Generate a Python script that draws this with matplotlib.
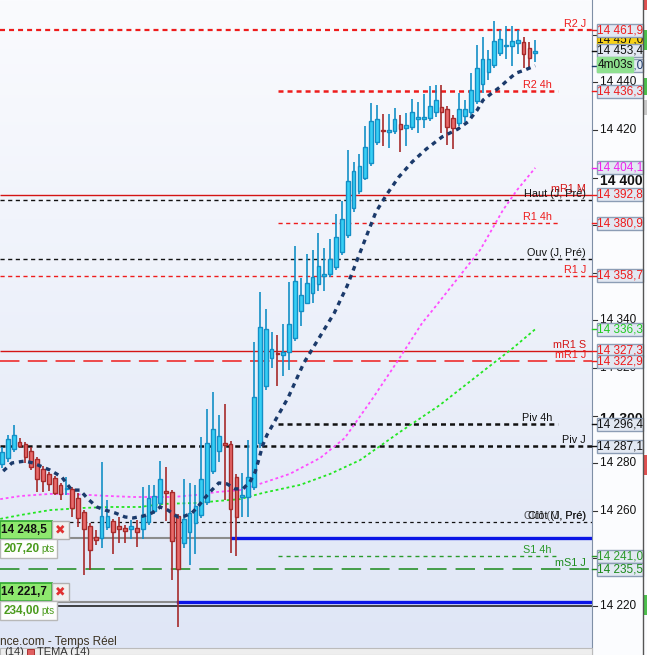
import numpy as np
import matplotlib
matplotlib.use('Agg')
import matplotlib.pyplot as plt
from matplotlib.patches import Rectangle
from matplotlib.lines import Line2D
from matplotlib.colors import LinearSegmentedColormap

plt.rcParams['font.family'] = ['Liberation Sans', 'DejaVu Sans']
plt.rcParams['lines.scale_dashes'] = False

# OHLC of the intraday candles, left to right
opens = [14279.7, 14282.2, 14286.0, 14288.9, 14288.1, 14285.1, 14281.7, 14277.6, 14275.5, 14273.8,
         14270.9, 14269.2, 14269.2, 14265.4, 14259.5, 14253.6, 14249.0, 14248.6, 14253.2, 14255.7,
         14253.6, 14252.8, 14252.4, 14252.8, 14252.4, 14255.3, 14259.9, 14263.3, 14268.3, 14267.9,
         14257.8, 14246.5, 14251.1, 14254.9, 14258.2, 14263.7, 14276.7, 14285.1, 14288.5, 14288.1,
         14274.2, 14265.8, 14265.8, 14270.0, 14288.5, 14312.4, 14324.2, 14326.3, 14325.5, 14326.7,
         14332.6, 14344.0, 14347.3, 14351.5, 14355.3, 14358.7, 14359.5, 14362.4, 14368.7, 14375.9,
         14387.2, 14394.4, 14399.8, 14406.1, 14415.0, 14419.6, 14419.2, 14419.6, 14422.5, 14420.8,
         14421.3, 14424.6, 14424.6, 14425.0, 14427.6, 14429.7, 14428.8, 14425.0, 14422.9, 14425.9,
         14427.6, 14432.2, 14439.3, 14444.4, 14447.3, 14452.4, 14455.3, 14455.3, 14456.6, 14457.0,
         14454.5, 14452.4]
highs = [14286.8, 14291.8, 14296.0, 14290.6, 14288.9, 14286.8, 14282.6, 14278.8, 14276.3, 14274.6,
         14271.7, 14274.2, 14270.0, 14267.5, 14260.3, 14254.9, 14251.9, 14280.5, 14264.5, 14256.6,
         14257.4, 14254.0, 14256.2, 14256.2, 14270.0, 14270.9, 14270.9, 14280.9, 14278.4, 14268.7,
         14258.6, 14273.4, 14271.7, 14270.9, 14291.0, 14302.8, 14309.9, 14300.3, 14304.9, 14289.3,
         14275.5, 14275.9, 14289.7, 14330.9, 14351.9, 14344.8, 14335.1, 14333.9, 14338.5, 14356.1,
         14371.3, 14357.8, 14367.9, 14369.6, 14376.7, 14370.4, 14374.2, 14384.7, 14390.2, 14411.6,
         14406.6, 14409.9, 14421.7, 14431.3, 14430.5, 14426.7, 14426.7, 14429.2, 14426.3, 14427.1,
         14433.0, 14431.7, 14435.1, 14438.5, 14438.9, 14438.9, 14430.1, 14426.3, 14435.5, 14432.6,
         14443.9, 14455.7, 14459.1, 14453.6, 14465.8, 14462.0, 14463.7, 14463.7, 14462.0, 14459.1,
         14457.0, 14457.8]
lows = [14278.0, 14280.5, 14284.7, 14286.4, 14280.1, 14277.1, 14267.9, 14267.9, 14268.3, 14266.7,
        14264.5, 14266.7, 14257.4, 14253.2, 14233.0, 14235.1, 14245.6, 14244.4, 14251.9, 14241.9,
        14246.5, 14246.5, 14248.2, 14244.8, 14248.2, 14254.0, 14258.6, 14262.0, 14255.7, 14230.9,
        14211.2, 14244.4, 14237.2, 14241.9, 14257.0, 14262.4, 14275.5, 14280.5, 14264.5, 14242.3,
        14241.0, 14257.4, 14257.4, 14268.7, 14286.4, 14310.8, 14320.0, 14312.4, 14316.6, 14319.2,
        14331.3, 14337.7, 14346.9, 14347.3, 14352.3, 14352.3, 14358.2, 14361.2, 14367.5, 14374.6,
        14385.5, 14393.1, 14399.0, 14404.9, 14413.7, 14413.3, 14412.4, 14418.3, 14410.8, 14413.3,
        14420.0, 14418.7, 14420.8, 14423.8, 14425.5, 14418.7, 14413.7, 14412.0, 14421.7, 14423.4,
        14425.0, 14430.9, 14435.5, 14441.0, 14446.0, 14451.1, 14449.8, 14446.9, 14451.9, 14446.0,
        14446.0, 14448.6]
closes = [14284.7, 14290.2, 14291.8, 14287.2, 14282.6, 14278.4, 14273.4, 14272.5, 14271.3, 14267.5,
          14267.1, 14269.6, 14261.2, 14257.0, 14252.4, 14243.5, 14247.7, 14257.8, 14257.8, 14251.1,
          14252.4, 14251.5, 14253.6, 14251.1, 14258.2, 14265.4, 14266.2, 14273.4, 14267.5, 14247.3,
          14235.5, 14256.6, 14259.1, 14262.0, 14273.4, 14288.5, 14294.4, 14291.4, 14287.6, 14260.7,
          14257.4, 14266.7, 14274.2, 14307.8, 14337.2, 14336.4, 14328.0, 14325.9, 14326.7, 14338.5,
          14356.6, 14350.7, 14355.7, 14358.2, 14362.9, 14359.5, 14365.8, 14375.0, 14382.6, 14398.6,
          14402.7, 14404.9, 14412.9, 14423.8, 14424.6, 14419.4, 14420.0, 14424.6, 14420.4, 14422.1,
          14427.6, 14425.5, 14425.5, 14430.1, 14432.6, 14427.6, 14421.3, 14420.8, 14428.8, 14428.8,
          14436.8, 14446.0, 14449.8, 14449.8, 14457.4, 14458.2, 14455.5, 14457.4, 14457.8, 14451.9,
          14450.2, 14453.4]

# TEMA (14): (candle position, price)
tema_x = [0.2, 1.7, 3.9, 5.3, 8.2, 10.2, 11.9, 13.3, 14.7, 16.2, 17.6, 19.3, 21.0, 22.4, 24.1, 25.6,
          27.0, 28.3, 30.0, 31.2, 32.4, 33.4, 34.6, 35.8, 37.0, 38.4, 39.8, 41.1, 42.3, 43.2, 43.7,
          44.5, 45.2, 48.8, 51.5, 54.1, 56.7, 58.9, 60.8, 62.6, 63.8, 65.7, 67.7, 70.0, 72.4, 75.1,
          77.8, 79.5, 81.1, 82.1, 83.6, 85.0, 86.3, 87.7, 89.2, 91.0]
tema_y = [14276.7, 14280.1, 14280.9, 14280.1, 14277.1, 14274.2, 14268.7, 14268.7, 14264.9, 14261.6,
          14260.3, 14259.1, 14257.4, 14257.0, 14257.8, 14259.1, 14261.6, 14260.3, 14257.4, 14257.8,
          14259.1, 14261.6, 14265.4, 14268.7, 14271.7, 14271.3, 14269.2, 14269.2, 14272.1, 14276.3,
          14280.5, 14287.6, 14291.8, 14307.4, 14322.1, 14332.6, 14343.1, 14354.5, 14366.6, 14378.0,
          14385.5, 14393.1, 14400.2, 14406.6, 14412.0, 14417.1, 14420.4, 14423.4, 14428.4, 14432.6,
          14435.5, 14438.1, 14441.0, 14443.9, 14445.2, 14447.0]

# slow moving averages (magenta and green)
ma_pink_x = [-0.3, 3.1, 8.2, 11.1, 14.5, 18.4, 22.4, 29.2, 33.3, 36.7, 40.6, 44.5, 49.1, 54.3, 58.5,
             63.3, 67.4, 71.7, 73.9, 81.6, 85.5, 87.9, 91.0]
ma_pink_y = [14264.9, 14266.2, 14267.1, 14267.1, 14266.7, 14266.2, 14265.8, 14265.8, 14266.7, 14267.9,
             14268.7, 14271.7, 14275.5, 14282.2, 14290.6, 14307.4, 14322.5, 14338.9, 14345.6, 14369.6,
             14386.4, 14394.8, 14404.1]
ma_green_x = [-0.3, 3.1, 8.2, 13.8, 18.4, 23.5, 27.5, 33.3, 36.7, 40.6, 44.5, 50.9, 56.0, 61.1, 67.9,
              74.7, 82.8, 87.2, 91.0]
ma_green_y = [14256.6, 14258.2, 14260.3, 14261.2, 14261.6, 14261.6, 14262.9, 14263.3, 14264.1, 14264.9,
              14267.5, 14270.9, 14275.5, 14281.3, 14293.1, 14304.4, 14320.0, 14328.4, 14336.3]

# pivot levels
level_names = ['R2 J', 'R2 4h', 'mR1 M', 'Haut (J, Pré)', 'R1 4h', 'Ouv (J, Pré)', 'R1 J', 'mR1 S',
               'mR1 J', 'Piv 4h', 'Piv J', 'Clôt (J, Pré)', 'S1 4h', 'mS1 J', '']
level_prices = [14461.9, 14436.3, 14392.8, 14390.6, 14380.9, 14365.8, 14358.7, 14327.3,
                14322.9, 14296.4, 14287.1, 14255.3, 14241.0, 14235.5, 14219.9]
level_axis_label = [True, True, True, False, True, False, True, True,
                    True, True, True, False, True, True, False]

# pending orders on the left
order_prices = [14248.5, 14221.7]
order_pts = ['207,20', '234,00']

# price scale (labels hidden under the level boxes are left out)
axis_ticks = [14220, 14240, 14260, 14280, 14300, 14320, 14340, 14360, 14380, 14400, 14420, 14440, 14460]
hidden_ticks = [14240, 14360, 14380, 14460]
last_price = 14453.4
tema_last = 14447.0
pink_last = 14404.1
green_last = 14336.3

RED = '#ee1c1c'
BLACK = '#111111'
GREEN4H = '#2a9a2a'
GREENJ = '#1a8a1a'
styles = {
    'R2 J': (RED, 1.6, (3.6, 2.9)),
    'R2 4h': (RED, 1.8, (3.6, 2.9)),
    'mR1 M': ('#d41414', 1.0, None),
    'Haut (J, Pré)': (BLACK, 1.0, (3.0, 2.5)),
    'R1 4h': (RED, 1.0, (3.0, 2.5)),
    'Ouv (J, Pré)': (BLACK, 1.0, (3.0, 2.5)),
    'R1 J': (RED, 1.0, (3.0, 2.5)),
    'mR1 S': ('#d41414', 1.0, None),
    'mR1 J': (RED, 1.1, (14.0, 6.0)),
    'Piv 4h': (BLACK, 1.8, (3.6, 2.9)),
    'Piv J': (BLACK, 1.8, (3.6, 2.9)),
    'Clôt (J, Pré)': (BLACK, 0.9, (2.5, 2.5)),
    'S1 4h': (GREEN4H, 1.0, (2.9, 2.9)),
    'mS1 J': (GREENJ, 1.1, (14.0, 6.5)),
    '': (BLACK, 1.1, None),
}

# pixel helpers (screen layout of the original)
PX_PER_PT = 2.38
Y_TOP = 14420 + 130 / PX_PER_PT
CANDLE_PX = 5.86
W, H, PLOT_W = 647, 655, 592


def py(y):
    return Y_TOP - y / PX_PER_PT


def px(x):
    return (x - 2) / CANDLE_PX


def fmt(p, dec=1):
    s = f'{p:,.{dec}f}'
    return s.replace(',', ' ').replace('.', ',')


fig = plt.figure(figsize=(W / 100, H / 100), dpi=100)
fig.patch.set_facecolor('#fbfcfe')
ax = fig.add_axes([0, 0, PLOT_W / W, 1])
x0, x1 = px(0), px(PLOT_W)
y0, y1 = py(H), py(0)
ax.set_xlim(x0, x1)
ax.set_ylim(y0, y1)

# background gradient
cmap = LinearSegmentedColormap.from_list('bg', ['#dfe6f6', '#fafbfe'])
grad = np.linspace(0, 1, 256).reshape(-1, 1)
ax.imshow(grad, extent=[x0, x1, y0, y1], aspect='auto', cmap=cmap, origin='lower', zorder=0)

for s in ['top', 'left', 'bottom']:
    ax.spines[s].set_visible(False)
ax.spines['right'].set_color('#7f8fa6')
ax.set_xticks([])
ax.set_yticks([])

# horizontal levels
four_h_start, four_h_end = px(278), px(558)
for name, price in zip(level_names, level_prices):
    color, lw, dash = styles[name]
    if '4h' in name:
        xs = [four_h_start, four_h_end]
        lab_x = px(552)
    else:
        xs = [x0, x1]
        lab_x = px(586)
    ln = ax.plot(xs, [price, price], color=color, lw=lw, zorder=2, solid_capstyle='butt')[0]
    if dash:
        ln.set_dashes(dash)
    if name:
        ax.text(lab_x, price + 1.3, name, color=color if color != GREENJ else '#1e8c1e',
                fontsize=7.8, ha='right', va='baseline', zorder=6)
ax.text(px(586), level_prices[11] + 1.3, 'Clôt (M, Pré)', color=BLACK, fontsize=7.8,
        ha='right', va='baseline', zorder=6, alpha=0.7)

# order lines: gray part then blue part
for price, start_px in zip(order_prices, [232, 178]):
    ax.plot([x0, px(start_px)], [price, price], color='#8c8c8c', lw=1.5, zorder=2)
    ax.plot([px(start_px), x1], [price, price], color='#0a14e6', lw=2.4, zorder=2)

# moving averages
l = ax.plot(ma_pink_x, ma_pink_y, color='#ff4dff', lw=1.3, zorder=3)[0]
l.set_dashes((2.0, 2.0))
l = ax.plot(ma_green_x, ma_green_y, color='#22e622', lw=1.3, zorder=3)[0]
l.set_dashes((2.0, 2.0))

# candles
BODY_W = 0.64
for i, (o, h, lo, c) in enumerate(zip(opens, highs, lows, closes)):
    up = c >= o
    face = '#36cff5' if up else '#e96a6a'
    edge = '#138fc6' if up else '#a62a2a'
    ax.plot([i, i], [lo, h], color=edge, lw=1.2, zorder=4, solid_capstyle='butt')
    bottom = min(o, c)
    height = max(abs(c - o), 0.5)
    ax.add_patch(Rectangle((i - BODY_W / 2, bottom), BODY_W, height, facecolor=face,
                           edgecolor=edge, lw=1.0, zorder=5))

# TEMA
l = ax.plot(tema_x, tema_y, color='#1b3a6b', lw=2.4, zorder=6, solid_capstyle='butt')[0]
l.set_dashes((3.4, 3.4))
l.set_dash_capstyle('butt')

# right price scale
trans = ax.get_yaxis_transform()
for t in axis_ticks:
    bold = t in (14400, 14300)
    ax.plot([1.0, 5 / PLOT_W + 1.0], [t, t], transform=trans, color='#333333', lw=0.8, clip_on=False)
    if t in hidden_ticks:
        continue
    ax.text(600 / PLOT_W, t - (1.5 if bold else 0), fmt(t, 0), transform=trans,
            fontsize=10 if bold else 8.5, fontweight='bold' if bold else 'normal',
            ha='left', va='center', color='#111111', clip_on=False, zorder=1)


def price_box(price, text, color, face='#e2e8f2', edge='#8c9db5', z=8, tick=True):
    hh = 13 / PX_PER_PT
    ax.add_patch(Rectangle((597 / PLOT_W, price - hh / 2), 46 / PLOT_W, hh, transform=trans,
                           facecolor=face, edgecolor=edge, lw=1.0, clip_on=False, zorder=z))
    ax.text(620 / PLOT_W, price, text, transform=trans, fontsize=8.5, color=color,
            ha='center', va='center', clip_on=False, zorder=z + 0.5)
    if tick:
        ax.plot([1.0, 596 / PLOT_W], [price, price], transform=trans, color=color, lw=1.0,
                clip_on=False, zorder=z)


box_colors = {'R2 J': RED, 'R2 4h': RED, 'mR1 M': RED, 'R1 4h': RED, 'R1 J': RED, 'mR1 S': RED,
              'mR1 J': RED, 'Piv 4h': BLACK, 'Piv J': BLACK, 'S1 4h': GREEN4H, 'mS1 J': GREENJ}

price_box(py(40), '14 457,0', BLACK, face='#f7d117', edge='#c8a800', z=7, tick=False)
price_box(tema_last, fmt(tema_last), '#1b3a6b', z=7)
price_box(pink_last, fmt(pink_last), '#ee22ee')
price_box(green_last, fmt(green_last), '#22cc22')
for name, price, show in zip(level_names, level_prices, level_axis_label):
    if show:
        price_box(price, fmt(price), box_colors[name])
price_box(last_price, fmt(last_price), BLACK, z=9)

# countdown box
ax.add_patch(Rectangle((597 / PLOT_W, py(72)), 36 / PLOT_W, 15 / PX_PER_PT, transform=trans,
                       facecolor='#8fe08f', edgecolor='#8fe08f', clip_on=False, zorder=10))
ax.text(615 / PLOT_W, py(64.5), '4m03s', transform=trans, fontsize=8.5, color=BLACK,
        ha='center', va='center', clip_on=False, zorder=11)

# order tickets on the left
for price, pts, top in zip(order_prices, order_pts, [521, 583]):
    ax.add_patch(Rectangle((px(0), py(top + 18)), px(52) - px(0), 18 / PX_PER_PT,
                           facecolor='#8ee86e', edgecolor='#2fa82f', lw=1.2, zorder=12))
    ax.text(px(47), py(top + 9), fmt(price), fontsize=8.5, fontweight='bold', color=BLACK,
            ha='right', va='center', zorder=13)
    ax.add_patch(Rectangle((px(52), py(top + 18)), px(69) - px(52), 18 / PX_PER_PT,
                           facecolor='#f0f0f0', edgecolor='#b0b0b0', lw=1.0, zorder=12))
    ax.text(px(60.5), py(top + 9), '\u2716', fontsize=9, color='#e03030',
            ha='center', va='center', zorder=13, family='DejaVu Sans')
    ax.add_patch(Rectangle((px(0), py(top + 37)), px(57) - px(0), 19 / PX_PER_PT,
                           facecolor='#fdfdfd', edgecolor='#b8b8b8', lw=1.0, zorder=12))
    ax.text(px(4), py(top + 28), pts, fontsize=8.5, color='#4a9a1c', fontweight='bold',
            ha='left', va='center', zorder=13)
    ax.text(px(41), py(top + 28.5), 'pts', fontsize=7, color='#4a9a1c',
            ha='left', va='center', zorder=13)

# footer
fig.text(0, 1 - 642 / H, 'nce.com - Temps Réel', fontsize=8.5, color='#3a3020',
         ha='left', va='center')
fig.patches.append(Rectangle((0, 0), PLOT_W / W, 7 / H, transform=fig.transFigure,
                             facecolor='#eeeeee', edgecolor='#bbbbbb', lw=0.8))
fig.text(4 / W, -2 / H, '(14)', fontsize=8, color='#333333', ha='left', va='bottom')
fig.patches.append(Rectangle((27 / W, 0), 7 / W, 6 / H, transform=fig.transFigure,
                             facecolor='#e06060', edgecolor='#a02020', lw=0.6))
fig.text(37 / W, -2 / H, 'TEMA (14)', fontsize=8, color='#333333', ha='left', va='bottom')

# right edge of the window
fig.add_artist(Line2D([643 / W, 643 / W], [0, 1], color='#555555', lw=1.0))
for y_top, y_bot, col in [(0, 10, '#e05050'), (30, 50, '#4cc04c'), (78, 95, '#4cc04c'),
                          (100, 115, '#c8c8c8'), (455, 475, '#e05050'), (595, 615, '#4cc04c')]:
    fig.patches.append(Rectangle((644 / W, 1 - y_bot / H), 3 / W, (y_bot - y_top) / H,
                                 transform=fig.transFigure, facecolor=col, edgecolor='none'))

fig.savefig('out.png', dpi=100, facecolor=fig.get_facecolor())
